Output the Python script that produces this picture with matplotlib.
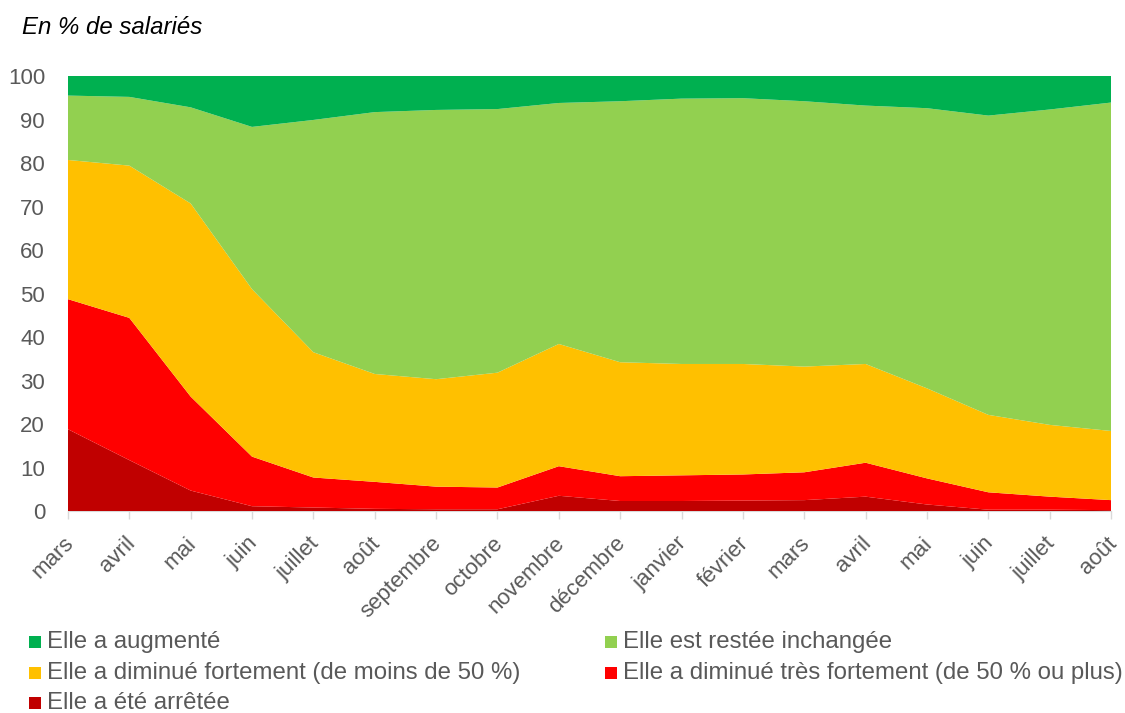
import numpy as np
import matplotlib.pyplot as plt
from matplotlib.patches import Rectangle
from matplotlib.transforms import ScaledTranslation

plt.rcParams['font.family'] = ['Liberation Sans', 'DejaVu Sans']

mois = ['mars', 'avril', 'mai', 'juin', 'juillet', 'août', 'septembre', 'octobre',
        'novembre', 'décembre', 'janvier', 'février', 'mars', 'avril', 'mai', 'juin',
        'juillet', 'août']

# Parts de salariés (en %), de bas en haut de l'empilement
arretee = [18.8, 11.7, 4.7, 1.1, 0.8, 0.5, 0.4, 0.4, 3.5, 2.3, 2.3, 2.4, 2.5, 3.3, 1.5, 0.3, 0.3, 0.2]
tres_forte = [29.9, 32.7, 21.6, 11.4, 6.9, 6.2, 5.2, 5.0, 6.8, 5.7, 5.9, 6.0, 6.4, 7.8, 6.0, 4.0, 3.0, 2.3]
forte = [32.0, 35.0, 44.4, 38.5, 28.8, 24.8, 24.7, 26.4, 28.1, 26.2, 25.6, 25.4, 24.3, 22.7, 20.7, 17.8, 16.5, 15.9]
inchangee = [14.8, 15.8, 22.1, 37.3, 53.4, 60.2, 61.9, 60.6, 55.4, 60.0, 61.0, 61.1, 61.0, 59.4, 64.4, 68.8, 72.5, 75.5]
augmente = [4.5, 4.8, 7.2, 11.7, 10.1, 8.3, 7.8, 7.6, 6.2, 5.8, 5.2, 5.1, 5.8, 6.8, 7.4, 9.1, 7.7, 6.1]

series = [arretee, tres_forte, forte, inchangee, augmente]
labels = ['Elle a été arrêtée',
          'Elle a diminué très fortement (de 50 % ou plus)',
          'Elle a diminué fortement (de moins de 50 %)',
          'Elle est restée inchangée',
          'Elle a augmenté']
couleurs = ['#C00000', '#FF0000', '#FFC000', '#92D050', '#00B050']

gris = '#595959'

fig = plt.figure(figsize=(11.25, 7.13), dpi=100)
ax = fig.add_axes([0.0604, 0.2833, 0.9272, 0.6101])

x = np.arange(len(mois))
ax.stackplot(x, *series, colors=couleurs, linewidth=0)

ax.set_xlim(0, len(mois) - 1)
ax.set_ylim(0, 100)
ax.set_yticks(range(0, 101, 10))
ax.tick_params(axis='y', length=0, labelsize=16, labelcolor=gris, pad=16.5)
ax.set_xticks(x)
ax.set_xticklabels(mois, rotation=45, ha='right', rotation_mode='anchor')
ax.tick_params(axis='x', direction='out', length=6, color='#d9d9d9', width=1,
               labelsize=16, labelcolor=gris, pad=4)
decalage = ScaledTranslation(-0.05, -0.08, fig.dpi_scale_trans)
for lab in ax.get_xticklabels():
    lab.set_transform(lab.get_transform() + decalage)
for s in ['top', 'right', 'left']:
    ax.spines[s].set_visible(False)
ax.spines['bottom'].set_color('#d9d9d9')
ax.spines['bottom'].set_zorder(0)

W, H = 1125, 713
fig.text(22 / W, 1 - 34 / H, 'En % de salariés', fontsize=17.3,
         style='italic', ha='left', va='baseline', color='black')

# Légende en bas : deux colonnes, trois lignes
ordre = [4, 3, 2, 1, 0]
pos = [(29, 642), (605, 642), (29, 673), (605, 673), (29, 703)]
for k, (px, py) in zip(ordre, pos):
    fig.add_artist(Rectangle((px / W, 1 - (py + 6) / H), 12 / W, 12 / H,
                             transform=fig.transFigure, color=couleurs[k], lw=0))
    fig.text((px + 18) / W, 1 - py / H, labels[k], fontsize=17.3, color=gris,
             ha='left', va='center')

fig.savefig('out.png', dpi=100)
